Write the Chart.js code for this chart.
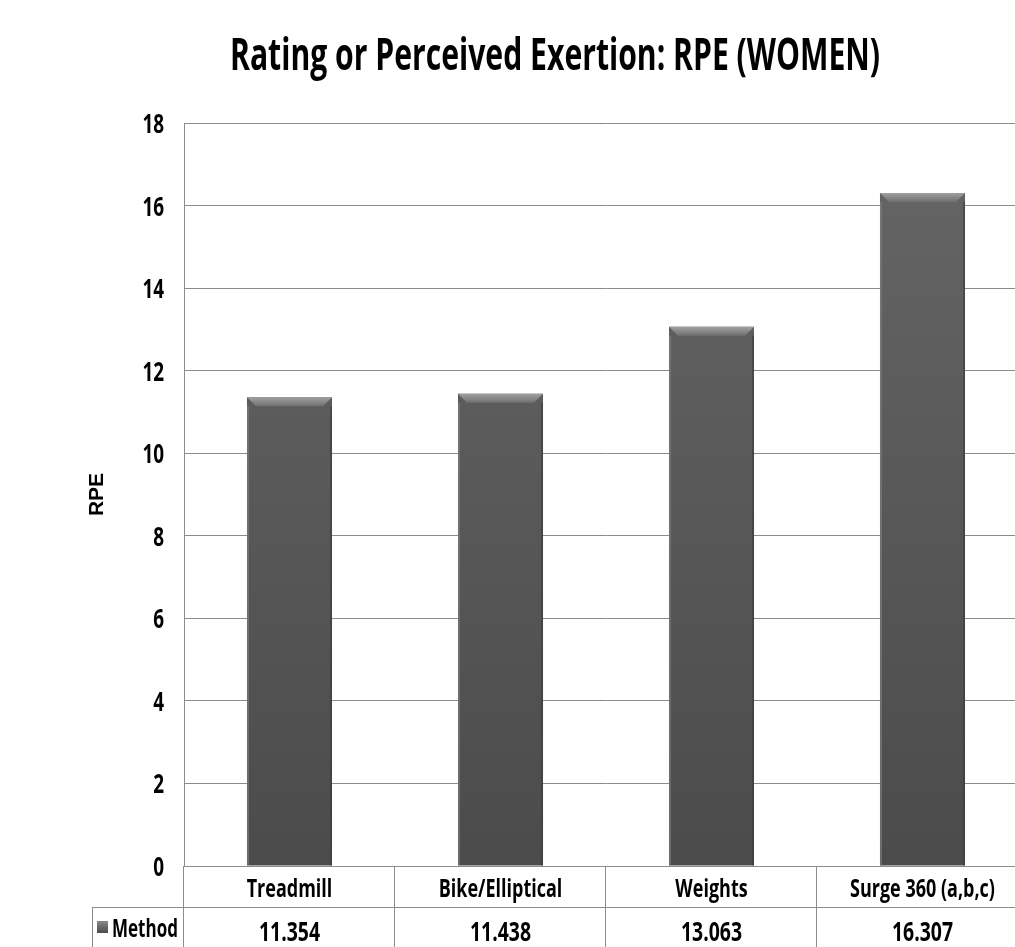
<!DOCTYPE html>
<html>
<head>
<meta charset="utf-8">
<script src="https://cdn.jsdelivr.net/npm/chart.js@4"></script>
<style>
  html, body { margin: 0; padding: 0; background: #fff; overflow: hidden; }
  #wrap { width: 1040px; height: 947px; position: relative; }
</style>
</head>
<body>
<div id="wrap"><canvas id="grafica_rpe"></canvas></div>
<script>
// datos
const categorias = ['Treadmill', 'Bike/Elliptical', 'Weights', 'Surge 360 (a,b,c)'];
const valoresRPE = [11.354, 11.438, 13.063, 16.307];
const nombreSerie = 'Method';
const ticksY = [0, 2, 4, 6, 8, 10, 12, 14, 16, 18];
const tituloGrafica = 'Rating or Perceived Exertion: RPE (WOMEN)';

const fuente = '"Open Sans", Lato, sans-serif';
const colorLinea = '#8c8c8c';

// texto angosto (parecido a Calibri): se comprime en horizontal
function textoAngosto(ctx, txt, x, y, size, esc, align) {
  ctx.save();
  ctx.font = 'bold ' + size + 'px ' + fuente;
  ctx.textBaseline = 'alphabetic';
  ctx.fillStyle = '#000';
  const w = ctx.measureText(txt).width * esc;
  let x0 = x;
  if (align === 'center') x0 = x - w / 2;
  if (align === 'right') x0 = x - w;
  ctx.translate(x0, y);
  ctx.scale(esc, 1);
  ctx.textAlign = 'left';
  ctx.fillText(txt, 0, 0);
  ctx.restore();
}

// relleno de barra (degradado vertical)
function rellenoBarra(ctx) {
  const chart = ctx.chart;
  const area = chart.chartArea;
  if (!area) return '#5c5c5c';
  const g = chart.ctx.createLinearGradient(0, area.top, 0, area.bottom);
  g.addColorStop(0, '#666666');
  g.addColorStop(1, '#4b4b4b');
  return g;
}

// bisel superior de las barras
const biselPlugin = {
  id: 'bisel',
  afterDatasetsDraw(chart) {
    const ctx = chart.ctx;
    chart.getDatasetMeta(0).data.forEach(bar => {
      const w = bar.width, x0 = bar.x - w / 2, x1 = bar.x + w / 2, y = bar.y;
      const b = 9;
      ctx.save();
      let g = ctx.createLinearGradient(0, y, 0, y + b);
      g.addColorStop(0, '#a0a0a0');
      g.addColorStop(1, '#707070');
      ctx.fillStyle = g;
      ctx.beginPath();
      ctx.moveTo(x0, y); ctx.lineTo(x1, y);
      ctx.lineTo(x1 - b, y + b); ctx.lineTo(x0 + b, y + b);
      ctx.closePath(); ctx.fill();
      ctx.fillStyle = 'rgba(130,130,130,0.6)';
      ctx.fillRect(x0, y + b, 2, bar.base - y - b);
      ctx.fillStyle = 'rgba(60,60,60,0.6)';
      ctx.fillRect(x1 - 2, y + b, 2, bar.base - y - b);
      ctx.restore();
    });
  }
};

// titulo y etiquetas del eje Y
const textosPlugin = {
  id: 'textos',
  afterDraw(chart) {
    const ctx = chart.ctx;
    ctx.save();
    ctx.font = 'bold 44px ' + fuente;
    const escT = 650 / ctx.measureText(tituloGrafica).width;
    ctx.restore();
    textoAngosto(ctx, tituloGrafica, 555, 70, 44, escT, 'center');
    const ys = chart.scales.y;
    ys.ticks.forEach(t => {
      textoAngosto(ctx, String(t.value), 164, ys.getPixelForValue(t.value) + 10, 27, 0.7, 'right');
    });
  }
};

// tabla de datos bajo el grafico
const tablaPlugin = {
  id: 'tablaDatos',
  afterDraw(chart) {
    const ctx = chart.ctx;
    const area = chart.chartArea;
    const xs = chart.scales.x;
    const alto = chart.height;
    const fila = 41;
    const y0 = area.bottom, y1 = y0 + fila, y2 = alto;
    const anchoCat = (area.right - area.left) / categorias.length;
    ctx.save();
    ctx.strokeStyle = colorLinea;
    ctx.lineWidth = 1;
    ctx.beginPath();
    ctx.moveTo(area.left, y0 + 0.5); ctx.lineTo(area.right, y0 + 0.5);
    ctx.moveTo(92, y1 + 0.5); ctx.lineTo(area.right, y1 + 0.5);
    ctx.moveTo(92.5, y1); ctx.lineTo(92.5, y2);
    for (let i = 0; i <= categorias.length; i++) {
      const x = Math.round(area.left + i * anchoCat) - 0.5;
      ctx.moveTo(x, y0); ctx.lineTo(x, y2);
    }
    ctx.stroke();

    categorias.forEach((c, i) => {
      const x = xs.getPixelForValue(i);
      textoAngosto(ctx, c, x, y0 + 31, 25, 0.72, 'center');
      textoAngosto(ctx, valoresRPE[i].toFixed(3), x, y1 + 34, 27, 0.72, 'center');
    });

    // leyenda
    const cy = y1 + 20;
    const g = ctx.createLinearGradient(0, cy - 6, 0, cy + 6);
    g.addColorStop(0, '#8a8a8a');
    g.addColorStop(1, '#4a4a4a');
    ctx.fillStyle = g;
    ctx.fillRect(97, cy - 6, 11, 12);
    textoAngosto(ctx, nombreSerie, 112, y1 + 30, 25, 0.68, 'left');
    ctx.restore();
  }
};

const grafica_rpe = document.getElementById('grafica_rpe');

new Chart(grafica_rpe, {
  type: 'bar',
  data: {
    labels: categorias,
    datasets: [{
      label: nombreSerie,
      data: valoresRPE,
      backgroundColor: rellenoBarra,
      borderWidth: 0,
      barPercentage: 0.403,
      categoryPercentage: 1
    }]
  },
  options: {
    responsive: true,
    maintainAspectRatio: false,
    animation: false,
    layout: { padding: { left: 0, right: 12, top: 123, bottom: 81 } },
    plugins: {
      legend: { display: false },
      tooltip: { enabled: false },
      title: { display: false }
    },
    scales: {
      x: { display: false },
      y: {
        min: 0,
        max: 18,
        afterBuildTicks: s => { s.ticks = ticksY.map(v => ({ value: v })); },
        afterFit: s => { s.width = 184; },
        grid: { color: colorLinea, drawTicks: false },
        border: { display: true, color: colorLinea },
        ticks: { display: false },
        title: {
          display: true,
          text: 'RPE',
          color: '#000',
          font: { family: '"Liberation Sans", Arial, sans-serif', size: 21, weight: 'bold' },
          padding: { top: 85, bottom: 0 }
        }
      }
    }
  },
  plugins: [biselPlugin, textosPlugin, tablaPlugin]
});
</script>
</body>
</html>
